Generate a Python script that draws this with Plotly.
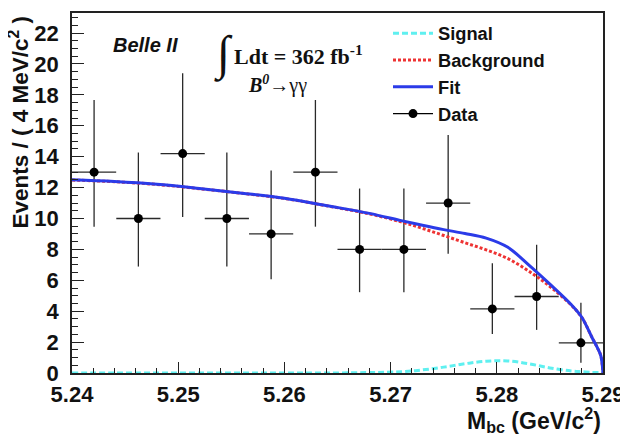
import plotly.graph_objects as go

# ---- data ----
bin_centers = [5.24208, 5.24625, 5.25042, 5.25458, 5.25875, 5.26292,
               5.26708, 5.27125, 5.27542, 5.27958, 5.28375, 5.28792]
counts = [13, 10, 14.2, 10, 9, 13, 8, 8, 11, 4.15, 4.95, 1.95]
err_hi = [4.67, 4.27, 5.2, 4.27, 4.11, 4.67, 3.94, 3.94, 4.40, 2.95, 3.35, 2.6]
err_lo = [3.53, 3.11, 4.1, 3.11, 2.94, 3.53, 2.77, 2.77, 3.28, 1.63, 2.16, 1.28]
bin_half_width = [0.00208] * 12

mbc_grid = [5.240, 5.244, 5.248, 5.252, 5.256, 5.260, 5.264, 5.268, 5.271,
            5.273, 5.275, 5.277, 5.279, 5.281, 5.283, 5.285, 5.287, 5.288,
            5.289, 5.2895, 5.2898, 5.290]
bkg_vals = [12.49, 12.38, 12.20, 11.93, 11.63, 11.30, 10.82, 10.30, 9.78,
            9.36, 8.90, 8.43, 7.97, 7.42, 6.60, 5.60, 4.40, 3.60,
            2.25, 1.60, 1.10, 0.0]
sig_vals = [0.0, 0.0, 0.0, 0.0, 0.0, 0.0, 0.0, 0.03, 0.08,
            0.20, 0.38, 0.60, 0.76, 0.78, 0.60, 0.33, 0.13, 0.08,
            0.04, 0.03, 0.02, 0.0]
fit_vals = [12.50, 12.39, 12.21, 11.94, 11.64, 11.31, 10.83, 10.33, 9.86,
            9.56, 9.28, 9.03, 8.73, 8.15, 7.00, 5.75, 4.43, 3.61,
            2.25, 1.60, 1.10, 0.0]

x_ticks = [5.24, 5.25, 5.26, 5.27, 5.28, 5.29]
x_tick_labels = ["5.24", "5.25", "5.26", "5.27", "5.28", "5.29"]
y_ticks = [0, 2, 4, 6, 8, 10, 12, 14, 16, 18, 20, 22]

# page has an 8px body margin; figure is laid out in its own pixel frame
W, H = 620, 428
ML, MR, MT, MB = 64, 25, 5, 63
PW, PH = W - ML - MR, H - MT - MB


def px(xp):  # page pixel -> paper x
    return (xp - 8 - ML) / PW


def py(yp):  # page pixel -> paper y
    return (H - MB - (yp - 8)) / PH


fig = go.Figure()

fig.add_trace(go.Scatter(
    x=bin_centers, y=counts, mode="markers", showlegend=False,
    marker=dict(color="black", size=9),
    error_y=dict(type="data", symmetric=False, array=err_hi, arrayminus=err_lo,
                 width=0, thickness=1.3, color="#2a2a2a"),
    error_x=dict(type="data", array=bin_half_width, width=0, thickness=1.3,
                 color="#2a2a2a"),
))

fig.add_trace(go.Scatter(
    x=mbc_grid, y=sig_vals, mode="lines", name="Signal",
    line=dict(color="#5ff0f0", width=3, dash="6px,3px", shape="spline"),
))
fig.add_trace(go.Scatter(
    x=mbc_grid, y=bkg_vals, mode="lines", name="Background",
    line=dict(color="#ee3333", width=3, dash="3px,2px", shape="spline"),
))
fig.add_trace(go.Scatter(
    x=mbc_grid, y=fit_vals, mode="lines", name="Fit",
    line=dict(color="#2b3be8", width=3, shape="spline"),
))
fig.add_trace(go.Scatter(
    x=[None], y=[None], mode="lines+markers", name="Data",
    line=dict(color="black", width=1.2), marker=dict(color="black", size=9),
))

axis_common = dict(
    showline=True, linecolor="#222222", linewidth=1.5, mirror=True,
    ticks="inside", tickcolor="#222222", tickwidth=1.2,
    showgrid=False, zeroline=False, automargin=False,
    tickfont=dict(family="Liberation Sans, Arial", size=22, color="#111111", weight=700),
)

fig.update_layout(
    width=W, height=H,
    margin=dict(l=ML, r=MR, t=MT, b=MB, autoexpand=False),
    paper_bgcolor="white", plot_bgcolor="white",
    xaxis=dict(range=[5.24, 5.29], tickvals=x_ticks, ticktext=x_tick_labels,
               ticklen=11, ticklabelstandoff=1,
               minor=dict(dtick=0.002, tick0=5.24, ticklen=5, ticks="inside",
                          tickcolor="#222222", tickwidth=1.2, showgrid=False),
               **axis_common),
    yaxis=dict(range=[0, 23.3], tickvals=y_ticks, ticklen=12, ticklabelstandoff=7,
               minor=dict(dtick=0.5, tick0=0, ticklen=6, ticks="inside",
                          tickcolor="#222222", tickwidth=1.2, showgrid=False),
               **axis_common),
    legend=dict(x=px(388), y=0.995, xanchor="left", yanchor="top",
                bgcolor="rgba(0,0,0,0)", borderwidth=0, itemwidth=40,
                font=dict(family="Liberation Sans, Arial", size=18.3, color="#111111", weight=700),
                traceorder="normal", tracegroupgap=0),
    showlegend=True,
)

fig.add_annotation(xref="paper", yref="paper", x=px(145), y=py(45),
                   xanchor="center", yanchor="middle",
                   text="<b><i>Belle II</i></b>", showarrow=False,
                   font=dict(family="Liberation Sans, Arial", size=20, color="#111111"))
fig.add_annotation(xref="paper", yref="paper", x=px(223), y=py(54),
                   xanchor="center", yanchor="middle",
                   text="∫", showarrow=False,
                   font=dict(family="Liberation Serif, Times New Roman", size=48, color="#111111"))
fig.add_annotation(xref="paper", yref="paper", x=px(232), y=py(55),
                   xanchor="left", yanchor="middle",
                   text="<b>Ldt = 362 fb<sup>-1</sup></b>", showarrow=False,
                   font=dict(family="Liberation Serif, Times New Roman", size=22, color="#111111"))
fig.add_annotation(xref="paper", yref="paper", x=px(246), y=py(85),
                   xanchor="left", yanchor="middle",
                   text="<b><i>B<sup>0</sup></i></b>→γγ", showarrow=False,
                   font=dict(family="Liberation Serif, Times New Roman", size=20, color="#111111"))
fig.add_annotation(xref="paper", yref="paper", x=px(603), y=py(420),
                   xanchor="right", yanchor="middle",
                   text="<b>M<sub>bc</sub> (GeV/c<sup>2</sup>)</b>", showarrow=False,
                   font=dict(family="Liberation Sans, Arial", size=23, color="#111111"))
fig.add_annotation(xref="paper", yref="paper", x=px(18), y=py(14),
                   xanchor="center", yanchor="top", textangle=-90,
                   text="<b>Events / ( 4 MeV/c<sup>2</sup> )</b>", showarrow=False,
                   font=dict(family="Liberation Sans, Arial", size=22.5, color="#111111"))

fig.write_html("out.html")
